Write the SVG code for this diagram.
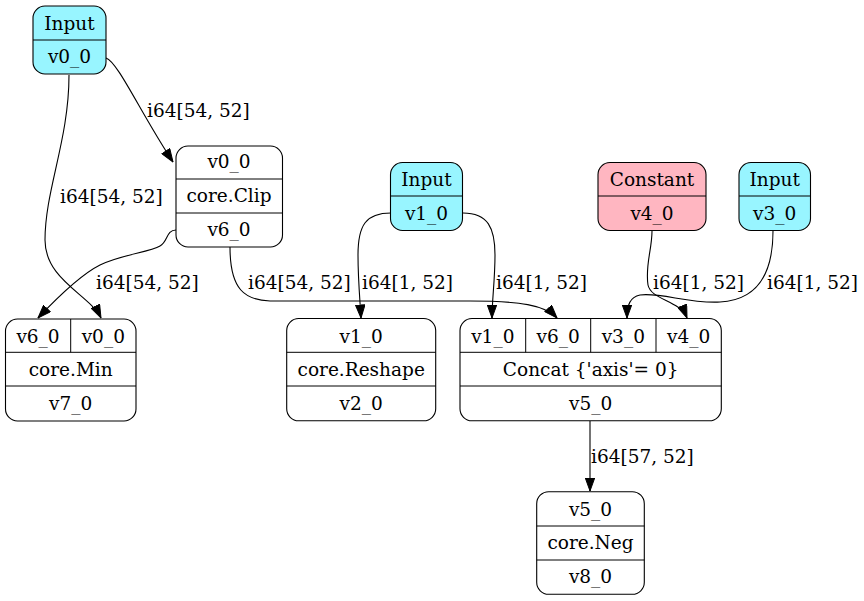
<svg xmlns="http://www.w3.org/2000/svg" width="864" height="601" viewBox="0 0 864 601">
<style>
text{font-family:"DejaVu Serif","Liberation Serif",serif;font-size:18.5px;fill:#000}
.c{text-anchor:middle}
.box{stroke:#000;stroke-width:1.1}
.ln{stroke:#000;stroke-width:1}
.inp{fill:#98f5ff}
.cst{fill:#ffb6c1}
.op{fill:#fff}
.e{fill:none;stroke:#000;stroke-width:1.1}
</style>
<defs>
<marker id="ah" markerUnits="userSpaceOnUse" markerWidth="14" markerHeight="10" refX="13.5" refY="5" orient="auto">
<path d="M0.5,0.3 L13.5,5 L0.5,9.7 z" fill="#000" stroke="#000" stroke-width="1"/>
</marker>
</defs>
<rect width="864" height="601" fill="#fff"/>
<g id="connectors">
<path class="e" marker-end="url(#ah)" d="M106,58 C118,62 140,112 173,162"/>
<path class="e" marker-end="url(#ah)" d="M69,75 C69,140 45,190 45,240 C45,280 90,295 101,318"/>
<path class="e" marker-end="url(#ah)" d="M176,230 C166,230 168,242 160,246 C150,252 120,255 100,265 C80,275 55,300 38,318"/>
<path class="e" marker-end="url(#ah)" d="M230,247 C230,290 245,300 270,301 L470,301 C520,301 545,305 557,318"/>
<path class="e" marker-end="url(#ah)" d="M391,213 C366,213 358,225 358,255 C358,280 360,300 361,318"/>
<path class="e" marker-end="url(#ah)" d="M463,213 C488,213 495,228 495,255 C495,280 492,300 492,318"/>
<path class="e" marker-end="url(#ah)" d="M652,231 C652,250 645,265 648,285 C651,300 680,300 687,318"/>
<path class="e" marker-end="url(#ah)" d="M773,231 C773,270 760,300 720,302 C690,304 660,292 640,295 C630,297 627,305 627,318"/>
<path class="e" marker-end="url(#ah)" d="M590,421 L590,491"/>
<text x="147" y="117">i64[54, 52]</text>
<text x="60" y="203">i64[54, 52]</text>
<text x="96" y="289">i64[54, 52]</text>
<text x="248" y="289">i64[54, 52]</text>
<text x="362" y="289">i64[1, 52]</text>
<text x="496" y="289">i64[1, 52]</text>
<text x="653" y="289">i64[1, 52]</text>
<text x="767" y="289">i64[1, 52]</text>
<text x="591" y="463">i64[57, 52]</text>
</g>
<g id="input_v0_0">
<rect class="box inp" x="33" y="6" width="73" height="68" rx="12"/>
<line class="ln" x1="33" y1="40" x2="106" y2="40"/>
<text class="c" x="69.5" y="30">Input</text>
<text class="c" x="69.5" y="63">v0_0</text>
</g>
<g id="clip_v6_0">
<rect class="box op" x="176" y="146" width="106.5" height="101" rx="12"/>
<line class="ln" x1="176" y1="179" x2="282.5" y2="179"/>
<line class="ln" x1="176" y1="213" x2="282.5" y2="213"/>
<text class="c" x="229" y="168">v0_0</text>
<text class="c" x="229" y="202">core.Clip</text>
<text class="c" x="229" y="236">v6_0</text>
</g>
<g id="input_v1_0">
<rect class="box inp" x="390.5" y="162.5" width="72" height="68" rx="12"/>
<line class="ln" x1="390.5" y1="196" x2="462.5" y2="196"/>
<text class="c" x="426.5" y="185.5">Input</text>
<text class="c" x="426.5" y="219.5">v1_0</text>
</g>
<g id="constant_v4_0">
<rect class="box cst" x="598" y="162.5" width="108" height="68" rx="12"/>
<line class="ln" x1="598" y1="196" x2="706" y2="196"/>
<text class="c" x="652" y="185.5">Constant</text>
<text class="c" x="652" y="219.5">v4_0</text>
</g>
<g id="input_v3_0">
<rect class="box inp" x="739" y="162.5" width="71.5" height="68" rx="12"/>
<line class="ln" x1="739" y1="196" x2="810.5" y2="196"/>
<text class="c" x="774.7" y="185.5">Input</text>
<text class="c" x="774.7" y="219.5">v3_0</text>
</g>
<g id="min_v7_0">
<rect class="box op" x="5.5" y="319" width="130.5" height="102" rx="12"/>
<line class="ln" x1="5.5" y1="352.3" x2="136" y2="352.3"/>
<line class="ln" x1="5.5" y1="386" x2="136" y2="386"/>
<line class="ln" x1="70.7" y1="319" x2="70.7" y2="352.3"/>
<text class="c" x="38" y="342.5">v6_0</text>
<text class="c" x="103.3" y="342.5">v0_0</text>
<text class="c" x="70.7" y="375.5">core.Min</text>
<text class="c" x="70.7" y="410">v7_0</text>
</g>
<g id="reshape_v2_0">
<rect class="box op" x="286.7" y="318.5" width="149" height="102.3" rx="12"/>
<line class="ln" x1="286.7" y1="352.3" x2="435.7" y2="352.3"/>
<line class="ln" x1="286.7" y1="386" x2="435.7" y2="386"/>
<text class="c" x="361.2" y="342.5">v1_0</text>
<text class="c" x="361.2" y="375.5">core.Reshape</text>
<text class="c" x="361.2" y="410">v2_0</text>
</g>
<g id="concat_v5_0">
<rect class="box op" x="460" y="318.5" width="261.3" height="102.3" rx="12"/>
<line class="ln" x1="460" y1="352.3" x2="721.3" y2="352.3"/>
<line class="ln" x1="460" y1="386" x2="721.3" y2="386"/>
<line class="ln" x1="525.7" y1="318.5" x2="525.7" y2="352.3"/>
<line class="ln" x1="590.7" y1="318.5" x2="590.7" y2="352.3"/>
<line class="ln" x1="656" y1="318.5" x2="656" y2="352.3"/>
<text class="c" x="492.8" y="342.5">v1_0</text>
<text class="c" x="558.2" y="342.5">v6_0</text>
<text class="c" x="623.3" y="342.5">v3_0</text>
<text class="c" x="688.6" y="342.5">v4_0</text>
<text class="c" x="590.7" y="375.5">Concat {'axis'= 0}</text>
<text class="c" x="590.7" y="410">v5_0</text>
</g>
<g id="neg_v8_0">
<rect class="box op" x="536.7" y="491.7" width="107.6" height="102.6" rx="12"/>
<line class="ln" x1="536.7" y1="526" x2="644.3" y2="526"/>
<line class="ln" x1="536.7" y1="560" x2="644.3" y2="560"/>
<text class="c" x="590.5" y="515.5">v5_0</text>
<text class="c" x="590.5" y="549">core.Neg</text>
<text class="c" x="590.5" y="583">v8_0</text>
</g>
</svg>
